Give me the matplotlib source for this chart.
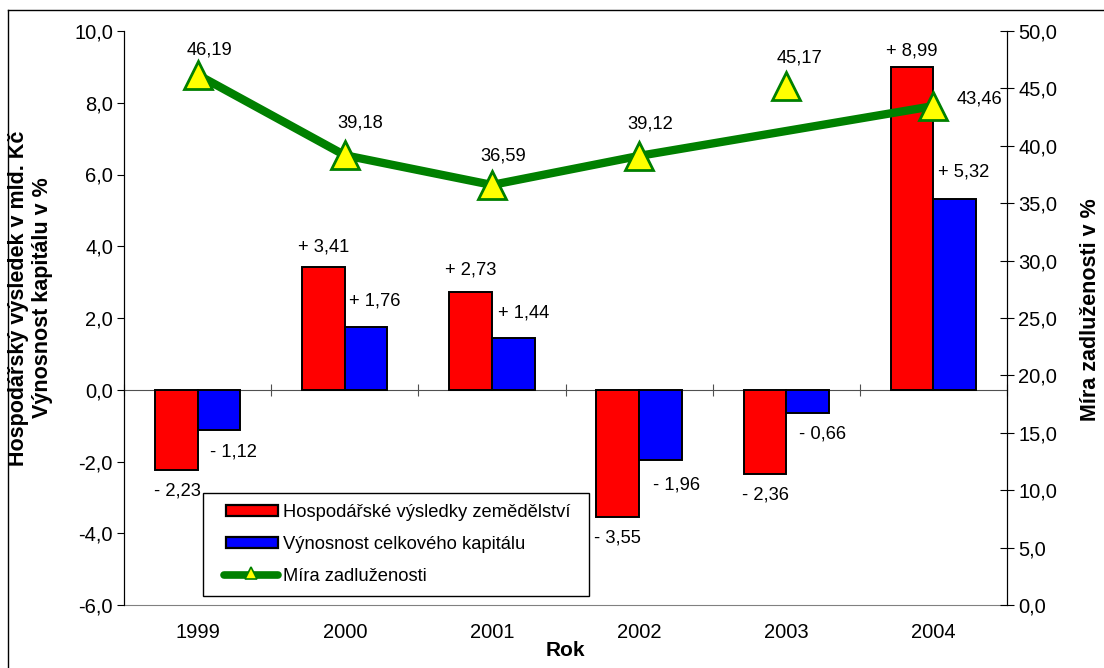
import numpy as np
import matplotlib
matplotlib.use("Agg")
import matplotlib.pyplot as plt
from matplotlib.lines import Line2D
from matplotlib.patches import Patch, Rectangle
from matplotlib.legend_handler import HandlerBase

plt.rcParams['font.family'] = ['Liberation Sans', 'DejaVu Sans']

# data
years = ['1999', '2000', '2001', '2002', '2003', '2004']
vysledky = [-2.23, 3.41, 2.73, -3.55, -2.36, 8.99]      # Hospodářské výsledky zemědělství (mld. Kč)
vynosnost = [-1.12, 1.76, 1.44, -1.96, -0.66, 5.32]     # Výnosnost celkového kapitálu (%)
zadluzenost = [46.19, 39.18, 36.59, 39.12, 45.17, 43.46]  # Míra zadluženosti (%)
v_care = [True, True, True, True, False, True]          # 2003 není spojen čarou

def fmt_sign(v):
    s = f"{abs(v):.2f}".replace('.', ',')
    return ("+ " if v >= 0 else "- ") + s

def fmt(v):
    return f"{v:.2f}".replace('.', ',')

# legenda s odsazenim zleva
class HandlerInset(HandlerBase):
    def __init__(self, inset):
        super().__init__()
        self.inset = inset

    def create_artists(self, legend, orig_handle, xdescent, ydescent, width, height, fontsize, trans):
        x0 = -xdescent + self.inset
        w = width - self.inset
        if isinstance(orig_handle, Patch):
            h = 7.5
            r = Rectangle((x0, -ydescent + (height - h) / 2), w, h,
                          facecolor=orig_handle.get_facecolor(), edgecolor='black',
                          linewidth=1.6, transform=trans)
            return [r]
        y = -ydescent + height / 2
        ln = Line2D([x0, x0 + w], [y, y], color='#008000', linewidth=5.5,
                    solid_capstyle='round', transform=trans)
        mk = Line2D([x0 + w / 2], [y + 1], marker='^', markersize=8, linestyle='none',
                    markerfacecolor='#ffff00', markeredgecolor='#008000', markeredgewidth=1.2,
                    transform=trans)
        return [ln, mk]

L, R, T, B = 124, 1007, 31, 605
fig = plt.figure(figsize=(11.04, 6.68), dpi=100)
ax = fig.add_axes([L/1104, 1-B/668, (R-L)/1104, (B-T)/668])
ax2 = ax.twinx()

x = np.arange(len(years))
w = 0.29
ax.bar(x - w/2, vysledky, w, color='#ff0000', edgecolor='black', linewidth=1.4, zorder=2)
ax.bar(x + w/2, vynosnost, w, color='#0000ff', edgecolor='black', linewidth=1.4, zorder=2)

ax.set_ylim(-6, 10)
ax.set_yticks(np.arange(-6, 11, 2))
ax.set_yticklabels([f"{t:.1f}".replace('.', ',') for t in np.arange(-6, 11, 2)])
ax.set_xlim(-0.5, len(years) - 0.5)
ax.set_xticks(x)
ax.set_xticklabels(years)
ax.tick_params(axis='x', length=0, pad=13, labelsize=14.5)
ax.tick_params(axis='y', direction='out', length=5, labelsize=14.5, pad=3)
ax.spines['top'].set_visible(False)
ax.spines['bottom'].set_color('#808080')

# kategoriova osa v nule
osa0 = ax.secondary_xaxis(6 / 16)
osa0.set_xticks(np.arange(-0.5, len(years), 1))
osa0.tick_params(axis='x', direction='inout', length=9, color='#505050', labelbottom=False)
osa0.spines['bottom'].set_color('#505050')

ax.set_xlabel('Rok', fontsize=15, fontweight='bold', labelpad=-1)
ax.set_ylabel('Hospodářský výsledek v mld. Kč\nVýnosnost kapitálu v %', fontsize=15.5,
              fontweight='bold', linespacing=1.2)
ax.yaxis.set_label_coords((53 - L) / (R - L), (B - 298) / (B - T))

# line on right axis
ax2.set_ylim(0, 50)
ax2.set_yticks(np.arange(0, 51, 5))
ax2.set_yticklabels([f"{t:.1f}".replace('.', ',') for t in np.arange(0, 51, 5)])
ax2.tick_params(axis='y', direction='inout', length=10, labelsize=14.5, pad=3)
ax2.spines['top'].set_visible(False)
ax2.spines['bottom'].set_visible(False)
ax2.set_ylabel('Míra zadluženosti v %', fontsize=15.5, fontweight='bold')
ax2.yaxis.set_label_coords((1080 - L) / (R - L), (B - 310) / (B - T))

xl = [xi for xi, c in zip(x, v_care) if c]
yl = [yi for yi, c in zip(zadluzenost, v_care) if c]
ax2.plot(xl, yl, color='#008000', linewidth=6, zorder=4, solid_capstyle='round')
ax2.plot(x, zadluzenost, linestyle='none', marker='^', markersize=20,
         markerfacecolor='#ffff00', markeredgecolor='#008000', markeredgewidth=2, zorder=5)

# labels
red_off = [(1, -21), (0, 20), (0, 22), (0, -21), (1, -21), (0, 16)]
blue_off = [(15, -22), (9, 26), (10, 25), (16, -25), (15, -21), (9, 27)]
line_off = [(12, 25), (15, 32), (11, 29), (11, 32), (13, 28), (46, 7)]
for i in range(len(years)):
    ax.annotate(fmt_sign(vysledky[i]), (x[i] - w/2, vysledky[i]), xytext=red_off[i],
                textcoords='offset pixels', ha='center', va='center', fontsize=13.2)
    ax.annotate(fmt_sign(vynosnost[i]), (x[i] + w/2, vynosnost[i]), xytext=blue_off[i],
                textcoords='offset pixels', ha='center', va='center', fontsize=13.2)
    ax2.annotate(fmt(zadluzenost[i]), (x[i], zadluzenost[i]), xytext=line_off[i],
                 textcoords='offset pixels', ha='center', va='center', fontsize=13.2, zorder=6)

h_red = Patch(facecolor='#ff0000', edgecolor='black')
h_blue = Patch(facecolor='#0000ff', edgecolor='black')
h_line = Line2D([], [], color='#008000')
labels = ['Hospodářské výsledky zemědělství', 'Výnosnost celkového kapitálu', 'Míra zadluženosti']
hm = {h_red: HandlerInset(8.6), h_blue: HandlerInset(8.6), h_line: HandlerInset(7.5)}
lx0 = (203 - L) / (R - L)
lw = (589 - 203) / (R - L)
ltop = (B - 493) / (B - T)
leg = ax2.legend([h_red, h_blue, h_line], labels, loc='upper left', mode='expand',
                 bbox_to_anchor=(lx0, 0, lw, ltop), borderaxespad=0,
                 frameon=True, fancybox=False, edgecolor='black', fontsize=13.2,
                 handlelength=3.5, handleheight=0.7, borderpad=0.6, labelspacing=0.82,
                 handletextpad=0.27, framealpha=1, handler_map=hm)
leg.get_frame().set_linewidth(1)
leg.set_zorder(10)

# outer frame
fig.add_artist(Line2D([8/1104, 8/1104], [0, 1-10/668], color='black', linewidth=1,
                      transform=fig.transFigure))
fig.add_artist(Line2D([8/1104, 1], [1-10/668, 1-10/668], color='black', linewidth=1,
                      transform=fig.transFigure))

fig.savefig('out.png', dpi=100)
